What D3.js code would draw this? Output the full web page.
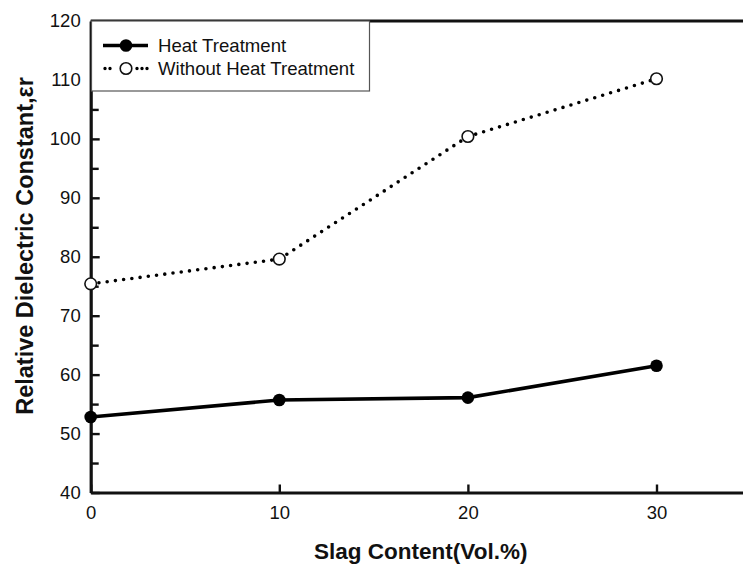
<!DOCTYPE html>
<html>
<head>
<meta charset="utf-8">
<script src="https://cdn.jsdelivr.net/npm/d3@7"></script>
<style>
  body { margin: 0; background: #fff; }
  text { font-family: "Liberation Sans", Arial, sans-serif; fill: #111; }
</style>
</head>
<body>
<div id="canvas"></div>
<script>
// data
var slagContent = [0, 10, 20, 30];
var heatTreatment = [52.8, 55.7, 56.1, 61.5];
var withoutHeat = [75.4, 79.6, 100.4, 110.2];
var xTicks = [0, 10, 20, 30];
var yTicks = [40, 50, 60, 70, 80, 90, 100, 110, 120];
var yMinorTicks = [45, 55, 65, 75, 85, 95, 105, 115];

var width = 743, height = 567;
// plot box (right edge runs past the window, like the original crop)
var margin = {top: 21, left: 90.7, bottom: 492.5, right: 750.8};

var svg = d3.select("#canvas").append("svg")
    .attr("width", width)
    .attr("height", height);

svg.append("rect").attr("width", width).attr("height", height).attr("fill", "#fff");

var x = d3.scaleLinear().domain([0, 35]).range([margin.left, margin.right]);
var y = d3.scaleLinear().domain([40, 120]).range([margin.bottom, margin.top]);

// ****************** axes ***************************

// x axis: ticks point inward (up)
var xAxis = svg.append("g")
    .attr("transform", "translate(0," + margin.bottom + ")")
    .call(d3.axisBottom(x).tickValues(xTicks).tickSizeInner(-8).tickSizeOuter(0).tickPadding(13));
xAxis.select(".domain").attr("stroke", "#111").attr("stroke-width", 3.2);
xAxis.selectAll(".tick line").attr("stroke", "#111").attr("stroke-width", 2.4);
xAxis.selectAll(".tick text").attr("font-size", 18.5).attr("font-family", null);

// y axis: ticks point inward (right)
var yAxis = svg.append("g")
    .attr("transform", "translate(" + margin.left + ",0)")
    .call(d3.axisLeft(y).tickValues(yTicks).tickSizeInner(-9).tickSizeOuter(0).tickPadding(10));
yAxis.select(".domain").attr("stroke", "#111").attr("stroke-width", 3.2);
yAxis.selectAll(".tick line").attr("stroke", "#111").attr("stroke-width", 2.4);
yAxis.selectAll(".tick text").attr("font-size", 18.5).attr("font-family", null);

var yMinor = svg.append("g")
    .attr("transform", "translate(" + margin.left + ",0)")
    .call(d3.axisLeft(y).tickValues(yMinorTicks).tickSizeInner(-8).tickSizeOuter(0).tickFormat(""));
yMinor.select(".domain").remove();
yMinor.selectAll(".tick line").attr("stroke", "#111").attr("stroke-width", 2.4);

// top frame line
svg.append("line")
    .attr("x1", margin.left).attr("x2", margin.right)
    .attr("y1", y(120)).attr("y2", y(120))
    .attr("stroke", "#111").attr("stroke-width", 3.2);

// axis titles
svg.append("text")
    .attr("x", (margin.left + margin.right) / 2)
    .attr("y", 559)
    .attr("text-anchor", "middle")
    .attr("font-size", 22.5)
    .attr("font-weight", "bold")
    .text("Slag Content(Vol.%)");

svg.append("text")
    .attr("transform", "translate(33," + 246 + ") rotate(-90)")
    .attr("text-anchor", "middle")
    .attr("font-size", 23.5)
    .attr("font-weight", "bold")
    .text("Relative Dielectric Constant,\u03b5r");

// ****************** series ***************************

var line = d3.line()
    .x(function(d) { return x(d[0]); })
    .y(function(d) { return y(d[1]); });

var heatPts = d3.zip(slagContent, heatTreatment);
var withoutPts = d3.zip(slagContent, withoutHeat);

svg.append("path")
    .datum(withoutPts)
    .attr("d", line)
    .attr("fill", "none")
    .attr("stroke", "#000")
    .attr("stroke-width", 3.6)
    .attr("stroke-linecap", "round")
    .attr("stroke-dasharray", "0 8.3");

svg.append("path")
    .datum(heatPts)
    .attr("d", line)
    .attr("fill", "none")
    .attr("stroke", "#000")
    .attr("stroke-width", 3.6);

svg.selectAll("circle.heat")
    .data(heatPts)
  .enter().append("circle")
    .attr("class", "heat")
    .attr("cx", function(d) { return x(d[0]); })
    .attr("cy", function(d) { return y(d[1]); })
    .attr("r", 6.3)
    .attr("fill", "#000");

svg.selectAll("circle.without")
    .data(withoutPts)
  .enter().append("circle")
    .attr("class", "without")
    .attr("cx", function(d) { return x(d[0]); })
    .attr("cy", function(d) { return y(d[1]); })
    .attr("r", 5.8)
    .attr("fill", "#fff")
    .attr("stroke", "#111")
    .attr("stroke-width", 1.6);

// ****************** legend ***************************

var legend = svg.append("g");
legend.append("rect")
    .attr("x", 91.5).attr("y", 21)
    .attr("width", 278).attr("height", 70)
    .attr("fill", "#fff")
    .attr("stroke", "#555")
    .attr("stroke-width", 1.2);

legend.append("line")
    .attr("x1", 103).attr("x2", 148).attr("y1", 45.5).attr("y2", 45.5)
    .attr("stroke", "#000").attr("stroke-width", 3.6);
legend.append("circle").attr("cx", 126).attr("cy", 45.5).attr("r", 6.3).attr("fill", "#000");
legend.append("text").attr("x", 158).attr("y", 52).attr("font-size", 18.6).text("Heat Treatment");

legend.append("line")
    .attr("x1", 105).attr("x2", 148).attr("y1", 68.5).attr("y2", 68.5)
    .attr("stroke", "#000").attr("stroke-width", 3.4)
    .attr("stroke-linecap", "round")
    .attr("stroke-dasharray", "0 5 0 27 0 5");
legend.append("circle").attr("cx", 126).attr("cy", 68.5).attr("r", 5.8)
    .attr("fill", "#fff").attr("stroke", "#111").attr("stroke-width", 1.6);
legend.append("text").attr("x", 158).attr("y", 75).attr("font-size", 18.6).text("Without Heat Treatment");
</script>
</body>
</html>
